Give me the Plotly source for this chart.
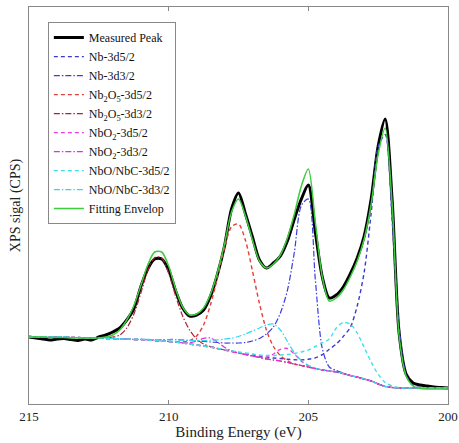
import plotly.graph_objects as go

# Binding energy grid (eV), 215 -> 200 in 0.25 eV steps
binding_energy = [215.0, 214.75, 214.5, 214.25, 214.0, 213.75, 213.5, 213.25, 213.0, 212.75,
                  212.5, 212.25, 212.0, 211.75, 211.5, 211.25, 211.0, 210.75, 210.5, 210.25,
                  210.0, 209.75, 209.5, 209.25, 209.0, 208.75, 208.5, 208.25, 208.0, 207.75,
                  207.5, 207.25, 207.0, 206.75, 206.5, 206.25, 206.0, 205.75, 205.5, 205.25,
                  205.0, 204.75, 204.5, 204.25, 204.0, 203.75, 203.5, 203.25, 203.0, 202.75,
                  202.5, 202.25, 202.0, 201.75, 201.5, 201.25, 201.0, 200.75, 200.5, 200.25,
                  200.0]

measured_peak = [67, 66, 65, 64, 65, 65.5, 64.5, 63.5, 65, 64,
                 67, 69, 72, 76, 84, 95, 117, 135, 145, 145,
                 134, 113, 96, 88, 89, 94, 108, 130, 158, 195,
                 211, 190, 167, 144, 136, 141, 148, 163, 185, 205,
                 219, 172, 127, 106, 109, 117, 130, 146, 168, 205,
                 258, 285, 204, 71, 30, 21, 19, 18, 17, 16.5,
                 16]

nb_3d52 = [67, 67, 67, 67, 67, 67, 66.5, 66.5, 66, 66,
           66, 65.5, 65.5, 65, 65, 64.5, 64.5, 64, 63.5, 63,
           62.5, 62, 61, 60, 59, 58, 57, 55.5, 54, 52.8,
           51.5, 50.3, 49, 47.8, 46.5, 46, 45.5, 44.8, 44.3, 44.1,
           44.7, 46.2, 49.3, 54.7, 60, 67.5, 76.5, 98, 132, 191,
           257, 269.5, 184.5, 77, 29, 18.5, 16.5, 16, 16, 16,
           16]

nb_3d32 = [67, 67, 67, 67, 67, 67, 66.5, 66.5, 66, 66,
           66, 65.5, 65.5, 65, 65, 64.5, 64.5, 64.5, 64.5, 64.5,
           64.5, 64.5, 64, 63.5, 63, 62.5, 62, 61.5, 61, 61,
           61, 61.5, 63, 65.5, 70, 77, 91, 113.5, 152, 198.5,
           205, 124.5, 55.5, 37, 33.5, 31, 28.5, 27, 25, 23,
           20, 17.5, 16.5, 16, 16, 16, 16, 16, 16, 16,
           16]

nb2o5_3d52 = [67, 67, 67, 67, 67, 67, 66.5, 66.5, 66, 66,
              66, 65.5, 65.5, 65, 65, 64.5, 64.5, 64, 63.5, 63,
              62.5, 62, 62, 63.3, 68, 79, 99.5, 126.5, 156, 177.2,
              180, 163.5, 133, 100.5, 74, 57.5, 48.3, 43.3, 40, 38.5,
              37, 35.5, 34, 33, 32, 30.5, 28.5, 27, 25, 23,
              20, 17.5, 16.5, 16, 16, 16, 16, 16, 16, 16,
              16]

nb2o5_3d32 = [67, 67, 67, 67, 67, 67, 66.5, 66.5, 66, 66,
              66, 66, 67, 69, 76, 89.5, 110.5, 133, 146.5, 146,
              130.5, 108, 88, 74, 65, 60, 57.5, 55.5, 54, 52.5,
              51, 49.5, 48, 46.5, 45, 44, 43, 41.5, 40, 38.5,
              37, 35.5, 34, 33, 32, 30.5, 28.5, 27, 25, 23,
              20, 17.5, 16.5, 16, 16, 16, 16, 16, 16, 16,
              16]

nbo2_3d52 = [67, 67, 67, 67, 67, 67, 66.5, 66.5, 66, 66,
             66, 65.5, 65.5, 65, 65, 64.5, 64.5, 64, 63.5, 63,
             62.5, 62, 61, 60, 59, 58, 57, 55.5, 54, 52.5,
             51, 49.5, 48, 46.8, 46.8, 50, 54.7, 55.5, 50, 42.8,
             38.1, 35.5, 34, 33, 32, 30.5, 28.5, 27, 25, 23,
             20, 17.5, 16.5, 16, 16, 16, 16, 16, 16, 16,
             16]

nbo2_3d32 = [67, 67, 67, 67, 67, 67, 66.5, 66.5, 66, 66,
             66, 65.5, 65.5, 65, 65, 64.5, 64.5, 64, 63.5, 63,
             62.5, 62, 61.2, 61.2, 62.8, 65.6, 66, 61.9, 56.7, 53.2,
             51, 49.5, 48, 46.5, 45, 44, 43, 41.5, 40, 38.5,
             37, 35.5, 34, 33, 32, 30.5, 28.5, 27, 25, 23,
             20, 17.5, 16.5, 16, 16, 16, 16, 16, 16, 16,
             16]

nbo_nbc_3d52 = [67, 67, 67, 67, 67, 67, 66.5, 66.5, 66, 66,
                66, 65.5, 65.5, 65, 65, 64.5, 64.5, 64, 63.5, 63,
                62.5, 62, 61, 60, 59, 58, 57, 55.5, 54.5, 53.2,
                52, 51, 50, 49, 48.5, 48.5, 49, 49.5, 50.5, 52,
                54, 57.5, 61, 65, 76, 81.5, 80, 71, 56.5, 42,
                29.7, 21.5, 18, 16.5, 16, 16, 16, 16, 16, 16,
                16]

nbo_nbc_3d32 = [67, 67, 67, 67, 67, 67, 66.5, 66.5, 66, 66,
                66, 65.5, 65.5, 65, 65, 64.7, 64.9, 64.6, 64.4, 64.2,
                64.1, 64.1, 63.7, 63.4, 63.3, 63.4, 63.8, 64.1, 64.8, 65.8,
                67.5, 70, 73, 76, 79, 80, 74, 62.5, 51.3, 43.4,
                38.7, 36, 34, 33, 32, 30.5, 28.5, 27, 25, 23,
                20, 17.5, 16.5, 16, 16, 16, 16, 16, 16, 16,
                16]

fitting_envelope = [67, 67, 67, 66.5, 66.5, 66.5, 66, 66, 66, 66,
                    66, 67, 69, 74, 84, 98, 118, 139, 152, 152,
                    138, 115, 97, 89, 90, 96, 110, 132, 160, 192,
                    205, 188, 164, 143, 136, 140, 149, 166, 190, 218,
                    235, 182, 127, 103, 106, 114, 127, 143, 165, 200,
                    250, 276, 200, 68, 28, 18, 15.5, 15, 15, 15,
                    15]

x_ticks = [215, 210, 205, 200]

series = [
    ("Measured Peak", measured_peak, "#000000", 3.0, "solid"),
    ("Nb-3d5/2", nb_3d52, "#3a3ad0", 1.4, "4px,3px"),
    ("Nb-3d3/2", nb_3d32, "#3c3ce0", 1.2, "6px,2px,1.5px,2px"),
    ("Nb<sub>2</sub>O<sub>5</sub>-3d5/2", nb2o5_3d52, "#e0403a", 1.4, "4px,3px"),
    ("Nb<sub>2</sub>O<sub>5</sub>-3d3/2", nb2o5_3d32, "#b02038", 1.2, "6px,2px,1.5px,2px"),
    ("NbO<sub>2</sub>-3d5/2", nbo2_3d52, "#f040d8", 1.4, "4px,3px"),
    ("NbO<sub>2</sub>-3d3/2", nbo2_3d32, "#e030e0", 1.2, "6px,2px,1.5px,2px"),
    ("NbO/NbC-3d5/2", nbo_nbc_3d52, "#40e0e8", 1.4, "4px,3px"),
    ("NbO/NbC-3d3/2", nbo_nbc_3d32, "#30d8f0", 1.2, "6px,2px,1.5px,2px"),
    ("Fitting Envelop", fitting_envelope, "#3ccc3c", 1.5, "solid"),
]

fig = go.Figure()
for name, values, color, width, dash in series:
    fig.add_trace(go.Scatter(
        x=binding_energy, y=values, mode="lines", name=name,
        line=dict(color=color, width=width, dash=dash, shape="spline", smoothing=0.8),
    ))

serif = "Liberation Serif, serif"
fig.update_layout(
    width=459, height=443,
    margin=dict(l=29, r=11, t=7, b=39, autoexpand=False),
    paper_bgcolor="white", plot_bgcolor="white",
    font=dict(family=serif, size=12, color="#222"),
    showlegend=True,
    legend=dict(
        x=0.045, y=0.962, xanchor="left", yanchor="top",
        bgcolor="white", bordercolor="#888", borderwidth=1,
        font=dict(family=serif, size=12, color="#111"),
        itemwidth=30, tracegroupgap=0,
    ),
    xaxis=dict(
        range=[215, 200], tickvals=x_ticks, ticktext=[str(t) for t in x_ticks],
        ticks="inside", ticklen=4, tickcolor="#888", mirror="ticks", automargin=False,
        showline=True, linecolor="#888", linewidth=1, showgrid=False, zeroline=False,
        tickfont=dict(family=serif, size=13, color="#222"),
        title=dict(text="Binding Energy (eV)", font=dict(family=serif, size=15, color="#222"), standoff=0),
    ),
    yaxis=dict(
        range=[0, 397], showticklabels=False, ticks="", automargin=False,
        showline=True, mirror=True, linecolor="#888", linewidth=1, showgrid=False, zeroline=False,
        title=dict(text="XPS sigal (CPS)", font=dict(family=serif, size=14, color="#222"), standoff=4),
    ),
)

fig.write_html("out.html", config={"displayModeBar": False},
               post_script="document.body.style.margin='0';document.body.style.padding='0';")
